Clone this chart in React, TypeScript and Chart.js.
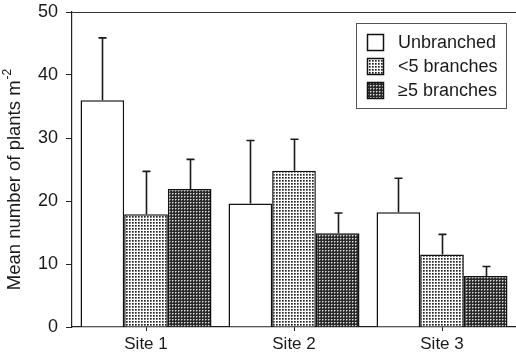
import React, { useEffect, useRef } from "react";
import { Chart, registerables } from "chart.js";

Chart.register(...registerables);

const categories = ["Site 1", "Site 2", "Site 3"];
const seriesLabels = ["Unbranched", "<5 branches", "\u22655 branches"];
const unbranched = [36.0, 19.6, 18.2];
const fewBranches = [17.9, 24.8, 11.5];
const manyBranches = [21.9, 14.9, 8.1];
const unbranchedErr = [45.9, 29.6, 23.6];
const fewBranchesErr = [24.7, 29.8, 14.7];
const manyBranchesErr = [26.6, 18.1, 9.6];
const yTicks = [0, 10, 20, 30, 40, 50];
const yTitleMain = "Mean number of plants m";
const yTitleSup = "-2";

const FONT = "'Liberation Sans', Arial, Helvetica, sans-serif";

function makePattern(kind: "light" | "dark"): CanvasPattern | string {
  const c = document.createElement("canvas");
  c.width = 3;
  c.height = 3;
  const g = c.getContext("2d");
  if (!g) return "#999";
  if (kind === "light") {
    g.fillStyle = "#ffffff";
    g.fillRect(0, 0, 3, 3);
    g.fillStyle = "#222222";
    g.fillRect(0, 0, 1, 1);
    g.fillStyle = "#666666";
    g.fillRect(1, 0, 1, 1);
    g.fillRect(0, 1, 1, 1);
    g.fillStyle = "#999999";
    g.fillRect(1, 1, 1, 1);
  } else {
    g.fillStyle = "#2a2a2a";
    g.fillRect(0, 0, 3, 3);
    g.fillStyle = "#dddddd";
    g.fillRect(1, 1, 1, 1);
    g.fillStyle = "#888888";
    g.fillRect(2, 1, 1, 1);
    g.fillRect(1, 2, 1, 1);
  }
  const p = g.createPattern(c, "repeat");
  return p || "#999";
}

export default function App() {
  const ref = useRef<HTMLCanvasElement | null>(null);

  useEffect(() => {
    const canvas = ref.current;
    if (!canvas) return;
    const light = makePattern("light");
    const dark = makePattern("dark");
    const fills = ["#ffffff", light, dark];
    const errs = [unbranchedErr, fewBranchesErr, manyBranchesErr];

    const errorBars = {
      id: "errorBars",
      afterDatasetsDraw(chart: any) {
        const ctx = chart.ctx;
        const y = chart.scales.y;
        ctx.save();
        ctx.strokeStyle = "#1a1a1a";
        ctx.lineWidth = 1.6;
        chart.data.datasets.forEach((ds: any, di: number) => {
          const meta = chart.getDatasetMeta(di);
          meta.data.forEach((el: any, i: number) => {
            const top = y.getPixelForValue(errs[di][i]);
            const x = Math.round(el.x) + 0.5;
            ctx.beginPath();
            ctx.moveTo(x, el.y);
            ctx.lineTo(x, top);
            ctx.moveTo(x - 4, top);
            ctx.lineTo(x + 4, top);
            ctx.stroke();
          });
        });
        ctx.restore();
      },
    };

    const yTitlePlugin = {
      id: "yTitle",
      afterDraw(chart: any) {
        const ctx = chart.ctx;
        ctx.save();
        ctx.translate(15, 180);
        ctx.rotate(-Math.PI / 2);
        ctx.fillStyle = "#1a1a1a";
        ctx.textBaseline = "middle";
        ctx.textAlign = "left";
        ctx.font = `18.5px ${FONT}`;
        const wMain = ctx.measureText(yTitleMain).width;
        ctx.font = `12px ${FONT}`;
        const wSup = ctx.measureText(yTitleSup).width;
        const start = -(wMain + wSup) / 2;
        ctx.font = `18.5px ${FONT}`;
        ctx.fillText(yTitleMain, start, 0);
        ctx.font = `12px ${FONT}`;
        ctx.fillText(yTitleSup, start + wMain + 1, -7);
        ctx.restore();
      },
    };

    const boxLegend = {
      id: "boxLegend",
      afterDraw(chart: any) {
        const ctx = chart.ctx;
        const left = 356.5;
        const top = 23.5;
        const w = 150;
        const h = 85;
        ctx.save();
        ctx.fillStyle = "#ffffff";
        ctx.fillRect(left, top, w, h);
        ctx.strokeStyle = "#555";
        ctx.lineWidth = 1;
        ctx.strokeRect(left, top, w, h);
        ctx.font = `18px ${FONT}`;
        ctx.textBaseline = "middle";
        ctx.textAlign = "left";
        chart.data.datasets.forEach((ds: any, i: number) => {
          const cy = 42 + i * 24;
          ctx.fillStyle = fills[i];
          ctx.fillRect(367, cy - 8, 17, 17);
          ctx.strokeStyle = "#111";
          ctx.lineWidth = 1.5;
          ctx.strokeRect(367.5, cy - 7.5, 16, 16);
          ctx.fillStyle = "#1a1a1a";
          ctx.fillText(ds.label, 398, cy + 1);
        });
        ctx.restore();
      },
    };

    const chart = new Chart(canvas, {
      type: "bar",
      data: {
        labels: categories,
        datasets: [unbranched, fewBranches, manyBranches].map((d, i) => ({
          label: seriesLabels[i],
          data: d,
          backgroundColor: fills[i] as any,
          borderColor: "#111",
          borderWidth: 1.5,
          borderSkipped: "bottom",
          categoryPercentage: 0.885,
          barPercentage: 1.0,
        })),
      },
      options: {
        responsive: false,
        animation: false,
        layout: { padding: { top: 12, right: 0, left: 0, bottom: 0 } },
        plugins: {
          legend: { display: false },
          tooltip: { enabled: false },
        },
        scales: {
          x: {
            grid: {
              display: true,
              offset: false,
              drawOnChartArea: false,
              tickLength: 4,
              color: "#222",
            },
            border: { color: "#222", width: 1.2 },
            ticks: {
              color: "#1a1a1a",
              font: { family: FONT, size: 17 },
              padding: 3,
            },
            afterFit(scale: any) {
              scale.height = 29;
              scale.paddingLeft = 0;
              scale.paddingRight = 0;
            },
          },
          y: {
            min: 0,
            max: 50,
            afterBuildTicks(scale: any) {
              scale.ticks = yTicks.map((v) => ({ value: v }));
            },
            grid: {
              drawOnChartArea: true,
              tickLength: 6,
              color: (c: any) => (c.tick && c.tick.value === 50 ? "#333" : "rgba(0,0,0,0)"),
              tickColor: "#222",
              lineWidth: 1,
            },
            border: { color: "#222", width: 1.2 },
            ticks: {
              color: "#1a1a1a",
              font: { family: FONT, size: 18 },
              padding: 8,
            },
            title: { display: false },
            afterFit(scale: any) {
              scale.width = 72;
              scale.paddingTop = 0;
              scale.paddingBottom = 0;
            },
          },
        },
      },
      plugins: [errorBars, boxLegend, yTitlePlugin],
    });

    return () => chart.destroy();
  }, []);

  return (
    <div style={{ position: "fixed", left: 0, top: 0, width: 516, height: 356, background: "#fff" }}>
      <canvas ref={ref} width={516} height={356} style={{ display: "block" }} />
    </div>
  );
}
